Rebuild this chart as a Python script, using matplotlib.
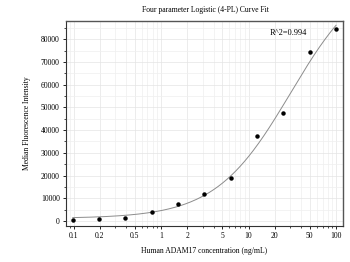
import numpy as np
import matplotlib
matplotlib.use("Agg")
import matplotlib.pyplot as plt
from matplotlib.ticker import FixedLocator, NullFormatter, MultipleLocator

plt.rcParams['font.family'] = ['Liberation Serif', 'DejaVu Serif']

# data
conc = [0.098, 0.195, 0.39, 0.78, 1.56, 3.125, 6.25, 12.5, 25, 50, 100]
mfi = [300, 800, 1500, 4100, 7500, 11900, 19100, 37300, 47500, 74400, 84500]
r2_text = "R^2=0.994"
xticks = [0.1, 0.2, 0.5, 1, 2, 5, 10, 20, 50, 100]
xticklabels = ["0.1", "0.2", "0.5", "1", "2", "5", "10", "20", "50", "100"]

# 4PL parameters of the fitted curve (estimated from the drawn line)
fit_bottom = 1157.0
fit_top = 111490.0
fit_ec50 = 30.2
fit_hill = 1.01

x = np.array(conc)
y = np.array(mfi, dtype=float)
xs = np.logspace(np.log10(0.098), np.log10(100), 300)
ys = fit_top + (fit_bottom - fit_top) / (1 + (xs / fit_ec50) ** fit_hill)

fig = plt.figure(figsize=(3.5, 2.62), dpi=100)
ax = fig.add_axes([66/350, 1 - 226/262, 277/350, 205/262])

ax.plot(xs, ys, color='#8c8c8c', lw=0.7, zorder=3)
ax.plot(x, y, 'o', color='black', ms=2.2, zorder=4)

ax.set_xscale('log')
ax.set_xlim(0.082, 120)
ax.set_ylim(-2200, 88000)
ax.xaxis.set_major_locator(FixedLocator(xticks))
ax.set_xticklabels(xticklabels)
ax.xaxis.set_minor_formatter(NullFormatter())
ax.yaxis.set_major_locator(MultipleLocator(10000))
ax.yaxis.set_minor_locator(MultipleLocator(5000))

ax.grid(True, which='major', color='#e4e4e4', lw=0.5)
ax.grid(True, which='minor', color='#efefef', lw=0.5)
ax.set_axisbelow(True)

for s in ['top', 'right']:
    ax.spines[s].set_color('#555555')
    ax.spines[s].set_linewidth(1.0)
for s in ['left', 'bottom']:
    ax.spines[s].set_color('#333333')
    ax.spines[s].set_linewidth(0.8)

ax.tick_params(which='major', labelsize=5.5, length=2.5, width=0.6, pad=2, direction='out')
ax.tick_params(which='minor', length=1.5, width=0.5, direction='out')

ax.text(17.6, 82600, r2_text, fontsize=6, va='center', ha='left')
ax.set_xlabel("Human ADAM17 concentration (ng/mL)", fontsize=5.5, labelpad=5)
ax.set_ylabel("Median Fluorescence Intensity", fontsize=5.5, labelpad=7)
fig.text(205/350, 1 - 10/262, "Four parameter Logistic (4-PL) Curve Fit",
         fontsize=5.5, ha='center', va='center')

fig.savefig("out.png", dpi=100)
